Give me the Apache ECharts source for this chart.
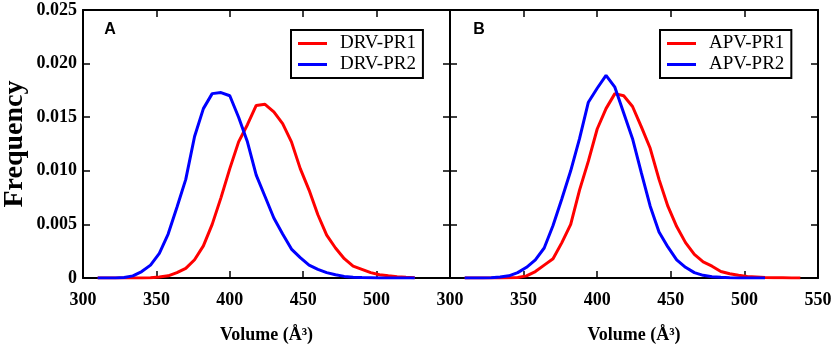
<!DOCTYPE html>
<html>
<head>
<meta charset="utf-8">
<script src="https://cdn.jsdelivr.net/npm/echarts@6/dist/echarts.min.js"></script>
<style>html,body{margin:0;padding:0;background:#fff;}#c{width:835px;height:346px;}</style>
</head>
<body>
<div id="c"></div>
<script>
// Bin centres (Å³)
var volumes = [310,316,322,328,334,340,346,352,358,364,370,376,382,388,394,400,406,412,418,424,430,436,442,448,454,460,466,472,478,484,490,496,502,508,514,520,526,532,538];
// Panel A
var drvPR1 = [0,0,0,0,0,0,0.00003,0.0001,0.0002,0.0005,0.0009,0.0017,0.0030,0.0050,0.0075,0.0102,0.0127,0.0143,0.0161,0.0162,0.0155,0.0144,0.0127,0.0102,0.0082,0.0059,0.0040,0.0028,0.0018,0.0011,0.0008,0.0005,0.0003,0.0002,0.00012,0.00006,0.00003,null,null];
var drvPR2 = [0,0,0,0.00005,0.0002,0.0006,0.0012,0.0023,0.0041,0.0066,0.0092,0.0132,0.0158,0.0172,0.0173,0.0170,0.0150,0.0127,0.0096,0.0076,0.0056,0.0041,0.0027,0.0019,0.0012,0.0008,0.0005,0.0003,0.00015,0.00008,0.00004,0.00002,0,0,0,0,0,null,null];
// Panel B
var apvPR1 = [0,0,0,0,0,0.00002,0.00005,0.0002,0.0006,0.0012,0.0018,0.0033,0.0050,0.0082,0.0109,0.0139,0.0158,0.0172,0.0170,0.0160,0.0141,0.0121,0.0092,0.0067,0.0048,0.0033,0.0022,0.0015,0.0011,0.0006,0.0004,0.00025,0.00015,0.0001,0.00005,0.00003,0.00002,0.00001,0];
var apvPR2 = [0,0,0,0.00003,0.0001,0.0002,0.0005,0.0010,0.0017,0.0028,0.0049,0.0074,0.0100,0.0130,0.0164,0.0177,0.0189,0.0178,0.0154,0.0130,0.0098,0.0067,0.0043,0.0029,0.0017,0.0010,0.0005,0.00025,0.00012,0.00006,0.00003,0.00001,0,0,0,null,null,null,null];
var xTicks = [300,350,400,450,500,550];
var yTicks = [0,0.005,0.010,0.015,0.020,0.025];
var legendA = ['DRV-PR1','DRV-PR2'];
var legendB = ['APV-PR1','APV-PR2'];

function pairs(vals){
  var out=[];
  for(var i=0;i<volumes.length;i++){ if(vals[i]!==null) out.push([volumes[i], vals[i]]); }
  return out;
}
var serif = 'Liberation Serif';
var lineBlack = {show:true, onZero:false, lineStyle:{color:'#000', width:2}};
var tickIn = {show:true, inside:true, length:7, lineStyle:{color:'#000', width:1.5}};
var lblX = {fontFamily:serif, fontWeight:'bold', fontSize:18, color:'#000', margin:13};

function xAxes(g, hideLast){
  return [
    {gridIndex:g, type:'value', min:xTicks[0], max:xTicks[xTicks.length-1], interval:50, position:'bottom',
     axisLine:lineBlack, axisTick:tickIn, splitLine:{show:false},
     axisLabel:Object.assign({}, lblX, {formatter:function(v){ return (hideLast && v===550) ? '' : String(v); }}),
     name:'Volume (Å³)', nameLocation:'middle', nameGap:48,
     nameTextStyle:{fontFamily:serif, fontWeight:'bold', fontSize:18, color:'#000'}},
    {gridIndex:g, type:'value', min:300, max:550, interval:50, position:'top',
     axisLine:lineBlack, axisTick:tickIn, axisLabel:{show:false}, splitLine:{show:false}}
  ];
}
function yAxes(g, showLabels){
  return [
    {gridIndex:g, type:'value', min:yTicks[0], max:yTicks[yTicks.length-1], interval:0.005, position:'left',
     axisLine:lineBlack, axisTick:tickIn, splitLine:{show:false},
     axisLabel:{show:showLabels, fontFamily:serif, fontWeight:'bold', fontSize:18, color:'#000', margin:6,
       formatter:function(v){ return Math.abs(v)<1e-9 ? '0' : v.toFixed(3); }}},
    {gridIndex:g, type:'value', min:0, max:0.025, interval:0.005, position:'right',
     axisLine:lineBlack, axisTick:tickIn, axisLabel:{show:false}, splitLine:{show:false}}
  ];
}
function ser(name, vals, g, color){
  return {name:name, type:'line', xAxisIndex:g*2, yAxisIndex:g*2, data:pairs(vals),
    symbol:'none', showSymbol:false, smooth:false, lineStyle:{color:color, width:3}, itemStyle:{color:color},
    animation:false, z:3};
}
function legend(data, left){
  return {data:data, orient:'vertical', left:left, top:30, icon:'rect', itemWidth:29, itemHeight:3, itemGap:2,
    padding:[4,7,4,7], borderColor:'#000', borderWidth:2, backgroundColor:'#fff',
    textStyle:{fontFamily:serif, fontSize:19, color:'#000', padding:[0,0,0,8]}};
}

var chart = echarts.init(document.getElementById('c'), null, {renderer:'canvas'});
chart.setOption({
  animation:false,
  backgroundColor:'#fff',
  grid:[
    {left:83, top:10, width:367, height:268, outerBoundsMode:'none', containLabel:false},
    {left:450, top:10, width:368, height:268, outerBoundsMode:'none', containLabel:false}
  ],
  xAxis: xAxes(0,true).concat(xAxes(1,false)),
  yAxis: yAxes(0,true).concat(yAxes(1,false)),
  legend:[legend(legendA, 291), legend(legendB, 660)],
  series:[
    ser(legendA[0], drvPR1, 0, '#ff0000'),
    ser(legendA[1], drvPR2, 0, '#0000ff'),
    ser(legendB[0], apvPR1, 1, '#ff0000'),
    ser(legendB[1], apvPR2, 1, '#0000ff')
  ],
  graphic:[
    {type:'text', x:15, y:144, rotation:Math.PI/2,
     style:{text:'Frequency', fontFamily:serif, fontWeight:'bold', fontSize:28, fill:'#000', textAlign:'center', textVerticalAlign:'middle'}},
    {type:'text', x:110, y:30, style:{text:'A', fontFamily:'Liberation Sans', fontWeight:'bold', fontSize:16, fill:'#000', textAlign:'center', textVerticalAlign:'middle'}},
    {type:'text', x:479, y:30, style:{text:'B', fontFamily:'Liberation Sans', fontWeight:'bold', fontSize:16, fill:'#000', textAlign:'center', textVerticalAlign:'middle'}}
  ]
});
</script>
</body>
</html>
